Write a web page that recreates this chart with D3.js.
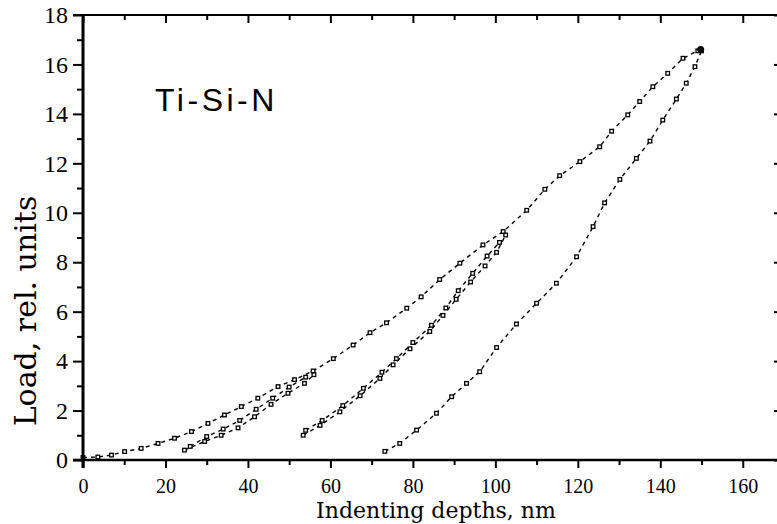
<!DOCTYPE html>
<html>
<head>
<meta charset="utf-8">
<script src="https://cdn.jsdelivr.net/npm/d3@7"></script>
<style>
  body { margin: 0; background: #fff; }
  svg { display: block; }
</style>
</head>
<body>
<div id="chart"></div>
<script>
// load / unload curves, [depth nm, load rel. units]
var loading = [[0,0.1],[3.6,0.12],[6.9,0.2],[10.1,0.34],[14.1,0.47],[18.2,0.67],[22.2,0.88],
  [26.3,1.15],[30.3,1.48],[34.3,1.82],[38.4,2.16],[42.4,2.5],[47.3,2.97],[51.3,3.25],
  [55.8,3.6],[60.7,4.1],[65.5,4.65],[69.6,5.15],[73.6,5.55],[78.5,6.14],[82,6.6],
  [86.5,7.3],[91.4,7.96],[97,8.7],[101.9,9.24],[107.6,10.1],[112,10.95],[115.6,11.5],
  [120.5,12.07],[125.3,12.67],[128.2,13.3],[132.1,13.96],[135,14.5],[138.2,15.1],
  [141.8,15.64],[145.5,16.25],[149.1,16.55]];
var unload1 = [[24.6,0.4],[29.5,0.75],[33.5,1.0],[37.6,1.3],[41.6,1.75],[45.6,2.25],
  [49.7,2.7],[53.7,3.1],[56,3.45]];
var reload1 = [[26,0.55],[30,0.95],[34,1.25],[38,1.6],[42,2.05],[46,2.5],[50,2.95],[54,3.35]];
var unload2 = [[53.4,1.0],[57.5,1.4],[62.3,1.95],[67.2,2.6],[72,3.3],[75.2,3.85],[79.3,4.5],
  [84.1,5.2],[87.3,5.85],[90.5,6.5],[94,7.2],[97.5,7.85],[100.3,8.4],[102.5,9.1]];
var reload2 = [[54,1.2],[58,1.6],[63,2.2],[68,2.9],[72.5,3.55],[76,4.1],[80,4.75],
  [84.5,5.45],[88,6.15],[91,6.85],[94.5,7.55],[98,8.25],[101,8.8]];
var unloadFinal = [[73.2,0.35],[76.8,0.67],[80.9,1.21],[85.7,1.89],[89.4,2.56],[93,3.1],
  [96.2,3.57],[100.3,4.55],[105.1,5.5],[110,6.34],[114.8,7.15],[119.7,8.22],[123.7,9.44],
  [126.5,10.4],[130.2,11.35],[134.2,12.2],[137.5,12.9],[140.6,13.75],[143.9,14.6],
  [146.3,15.24],[148.4,15.91],[150,16.55]];

var xTicks = [0,20,40,60,80,100,120,140,160];
var xMinor = [10,30,50,70,90,110,130,150];
var yTicks = [0,2,4,6,8,10,12,14,16,18];
var yMinor = [1,3,5,7,9,11,13,15,17];

var width = 777, height = 524;
var svg = d3.select("#chart").append("svg")
  .attr("width", width)
  .attr("height", height);

var x = d3.scaleLinear().domain([0,170]).range([83,784]);
var y = d3.scaleLinear().domain([0,18]).range([460,15]);

// curves
var line = d3.line().x(function(d){ return x(d[0]); }).y(function(d){ return y(d[1]); });
var curves = [loading, unload1, reload1, unload2, reload2, unloadFinal];
var g = svg.append("g");
curves.forEach(function(c){
  g.append("path")
    .attr("d", line(c))
    .attr("fill", "none")
    .attr("stroke", "#000")
    .attr("stroke-width", 1.4)
    .attr("stroke-dasharray", "4,4");
  g.selectAll(null).data(c).enter().append("rect")
    .attr("x", function(d){ return x(d[0]) - 1.8; })
    .attr("y", function(d){ return y(d[1]) - 1.8; })
    .attr("width", 3.6).attr("height", 3.6)
    .attr("fill", "#fff")
    .attr("stroke", "#000")
    .attr("stroke-width", 1.3);
});
// blob at the max load
g.append("circle")
  .attr("cx", x(149.8)).attr("cy", y(16.6)).attr("r", 3.5)
  .attr("fill", "#000");

// axes
function noText(sel){ sel.selectAll("text").remove(); sel.select(".domain").remove(); }

var bottomAxis = svg.append("g").attr("transform", "translate(0,460)");
bottomAxis.call(d3.axisBottom(x).tickValues(xTicks).tickSize(8).tickFormat(d3.format("d")));
bottomAxis.select(".domain").remove();
bottomAxis.selectAll(".tick line").attr("stroke-width", 2);
bottomAxis.selectAll("text")
  .attr("font-family", "'Liberation Serif', serif")
  .attr("font-size", 20).attr("dy", "0.71em").attr("y", 19).attr("fill", "#000");
var bottomMinor = svg.append("g").attr("transform", "translate(0,460)");
bottomMinor.call(d3.axisBottom(x).tickValues(xMinor).tickSize(5));
noText(bottomMinor);
bottomMinor.selectAll(".tick line").attr("stroke-width", 2);

var topAxis = svg.append("g").attr("transform", "translate(0,15)");
topAxis.call(d3.axisBottom(x).tickValues(xTicks).tickSize(8));
noText(topAxis);
topAxis.selectAll(".tick line").attr("stroke-width", 2);
var topMinor = svg.append("g").attr("transform", "translate(0,15)");
topMinor.call(d3.axisBottom(x).tickValues(xMinor).tickSize(5));
noText(topMinor);
topMinor.selectAll(".tick line").attr("stroke-width", 2);

var leftAxis = svg.append("g").attr("transform", "translate(83,0)");
leftAxis.call(d3.axisLeft(y).tickValues(yTicks).tickSize(10).tickFormat(d3.format("d")));
leftAxis.select(".domain").remove();
leftAxis.selectAll(".tick line").attr("stroke-width", 2);
leftAxis.selectAll("text")
  .attr("font-family", "'Liberation Serif', serif")
  .attr("font-size", 24).attr("x", -15).attr("fill", "#000");
var leftMinor = svg.append("g").attr("transform", "translate(83,0)");
leftMinor.call(d3.axisLeft(y).tickValues(yMinor).tickSize(6));
noText(leftMinor);
leftMinor.selectAll(".tick line").attr("stroke-width", 2);

var rightAxis = svg.append("g").attr("transform", "translate(782,0)");
rightAxis.call(d3.axisLeft(y).tickValues(yTicks).tickSize(8));
noText(rightAxis);
rightAxis.selectAll(".tick line").attr("stroke-width", 2);

// frame lines
svg.append("line").attr("x1", 73).attr("x2", 784).attr("y1", 15).attr("y2", 15)
  .attr("stroke", "#000").attr("stroke-width", 2);
svg.append("line").attr("x1", 73).attr("x2", 784).attr("y1", 460).attr("y2", 460)
  .attr("stroke", "#000").attr("stroke-width", 2.5);
svg.append("line").attr("x1", 83).attr("x2", 83).attr("y1", 14).attr("y2", 468)
  .attr("stroke", "#000").attr("stroke-width", 3);

// labels
svg.append("text")
  .attr("x", 436).attr("y", 518)
  .attr("text-anchor", "middle")
  .attr("font-family", "'DejaVu Serif', serif")
  .attr("font-size", 22)
  .text("Indenting depths, nm");
svg.append("text")
  .attr("transform", "translate(36,311) rotate(-90)")
  .attr("text-anchor", "middle")
  .attr("font-family", "'DejaVu Serif', serif")
  .attr("font-size", 30)
  .text("Load, rel. units");
svg.append("text")
  .attr("x", 155).attr("y", 111)
  .attr("font-family", "'Liberation Sans', Arial, sans-serif")
  .attr("font-size", 32)
  .attr("letter-spacing", 3.5)
  .text("Ti-Si-N");
</script>
</body>
</html>
